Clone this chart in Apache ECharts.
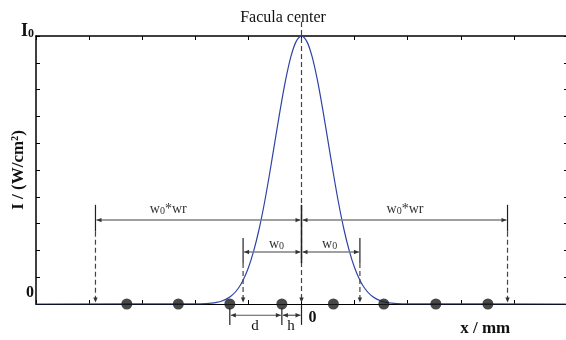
<!DOCTYPE html>
<html><head><meta charset="utf-8">
<script src="https://cdn.jsdelivr.net/npm/echarts@6/dist/echarts.min.js"></script>
<style>html,body{margin:0;padding:0;background:#fff}#c{width:566px;height:340px}</style>
</head><body><div id="c"></div>
<script>
// ---- axis settings ----
const xMin = -5, xMax = 5, xStep = 1;
const yMin = 0, yMax = 1, yStep = 0.1;
const yTopLabel = 'I', yTopLabelSub = '0', yBottomLabel = '0';
const xName = 'x / mm';
const yName = 'I / (W/cm\u00B2)';
const titleText = 'Facula center';
const originLabel = '0';

// ---- Gaussian intensity profile ----
const curveX = [-5, -2.0, -1.9, -1.8, -1.7, -1.6, -1.5, -1.4, -1.3, -1.2, -1.1, -1.0, -0.9, -0.8, -0.7, -0.6, -0.5, -0.4, -0.3, -0.2, -0.1, 0,
                0.1, 0.2, 0.3, 0.4, 0.5, 0.6, 0.7, 0.8, 0.9, 1.0, 1.1, 1.2, 1.3, 1.4, 1.5, 1.6, 1.7, 1.8, 1.9, 2.0, 5];
const curveY = [0, 0.0003, 0.0007, 0.0015, 0.003, 0.006, 0.011, 0.020, 0.034, 0.056, 0.089, 0.135, 0.198, 0.278, 0.375, 0.487, 0.607, 0.726, 0.835, 0.923, 0.980, 1.0,
                0.980, 0.923, 0.835, 0.726, 0.607, 0.487, 0.375, 0.278, 0.198, 0.135, 0.089, 0.056, 0.034, 0.020, 0.011, 0.006, 0.003, 0.0015, 0.0007, 0.0003, 0];

// ---- sampling points on the axis ----
const dotX = [-3.29, -2.32, -1.35, -0.37, 0.60, 1.55, 2.53, 3.51];

// ---- annotation geometry (data units) ----
const wrHalf = 3.88, wrLevel = 0.313, wrBar = [0.27, 0.37];
const w0Half = 1.10, w0Level = 0.194, w0Bar = [0.153, 0.246];
const centerBar = [0.153, 0.37];
const centerTop = 1.052;
const arrowTip = 0.006;
const dimLevel = -0.042, dimBar = [-0.015, -0.078];
const dLeft = dotX[2], dRight = dotX[3];
const wrLabelX = [-2.51, 1.95], wrLabelY = 0.354;
const w0LabelX = [-0.47, 0.53], w0LabelY = 0.224;
const dLabel = ['d', -0.876, -0.082], hLabel = ['h', -0.198, -0.082];
const originPos = [0.207, -0.052];
const xNamePos = [3.46, -0.092];

const serif = "'Liberation Serif','Times New Roman',serif";
const chart = echarts.init(document.getElementById('c'), null, {renderer: 'canvas'});

function renderAnno(params, api) {
  const P = (x, y) => api.coord([x, y]);
  const ch = [];
  const grey = '#808080', dark = '#222';
  const line = (a, b, style) => ch.push({type: 'line', shape: {x1: a[0], y1: a[1], x2: b[0], y2: b[1]}, style: style});
  const tri = (p, dir) => {
    const x = p[0], y = p[1], L = 5, W = 2.2;
    let pts;
    if (dir === 'l') pts = [[x, y], [x + L, y - W], [x + L, y + W]];
    else if (dir === 'r') pts = [[x, y], [x - L, y - W], [x - L, y + W]];
    else pts = [[x, y], [x - W, y - L], [x + W, y - L]];
    ch.push({type: 'polygon', shape: {points: pts}, style: {fill: '#333'}});
  };
  const dbl = (x1, x2, y, col, w) => {
    const a = P(x1, y), b = P(x2, y);
    line([a[0] + 1, a[1]], [b[0] - 1, b[1]], {stroke: col, lineWidth: w});
    tri([a[0] + 1, a[1]], 'l'); tri([b[0] - 1, b[1]], 'r');
  };
  const bar = (x, ylo, yhi, dashTo) => {
    line(P(x, ylo), P(x, yhi), {stroke: dark, lineWidth: 1.2});
    if (dashTo !== undefined) {
      const a = P(x, ylo), b = P(x, dashTo);
      line(a, [b[0], b[1] - 3], {stroke: '#444', lineWidth: 1.2, lineDash: [5, 3]});
      tri(b, 'd');
    }
  };
  const text = (str, x, y, style) => {
    const p = P(x, y);
    ch.push({type: 'text', x: p[0], y: p[1], style: Object.assign({text: str, align: 'center', verticalAlign: 'middle', fill: '#111', font: '14px ' + serif}, style)});
  };
  // centre dashed line
  {
    const a = P(0, centerTop), b = P(0, arrowTip);
    line(a, [b[0], b[1] - 3], {stroke: '#444', lineWidth: 1.2, lineDash: [5, 3]});
    tri(b, 'd');
    line(P(0, centerBar[0]), P(0, centerBar[1]), {stroke: dark, lineWidth: 1.5});
  }
  // w0*wr
  bar(-wrHalf, wrBar[0], wrBar[1], arrowTip);
  bar(wrHalf, wrBar[0], wrBar[1], arrowTip);
  dbl(-wrHalf, 0, wrLevel, grey, 1.5);
  dbl(0, wrHalf, wrLevel, grey, 1.5);
  // w0
  bar(-w0Half, w0Bar[0], w0Bar[1], arrowTip);
  bar(w0Half, w0Bar[0], w0Bar[1], arrowTip);
  dbl(-w0Half, 0, w0Level, grey, 1.5);
  dbl(0, w0Half, w0Level, grey, 1.5);
  // d and h
  bar(dLeft, dimBar[1], dimBar[0]);
  bar(dRight, dimBar[1], dimBar[0]);
  line(P(0, -0.004), P(0, dimBar[1]), {stroke: dark, lineWidth: 1.2});
  dbl(dLeft, dRight, dimLevel, '#555', 1.2);
  dbl(dRight, 0, dimLevel, '#555', 1.2);
  // labels
  const wrRich = {rich: {a: {font: '14px ' + serif, fill: '#333'}, s: {font: '10px ' + serif, fill: '#333', padding: [5, 0, 0, 0]}}};
  wrLabelX.forEach(x => text('{a|w}{s|0}{a|*wr}', x, wrLabelY, wrRich));
  w0LabelX.forEach(x => text('{a|w}{s|0}', x, w0LabelY, wrRich));
  text(dLabel[0], dLabel[1], dLabel[2], {font: '15px ' + serif});
  text(hLabel[0], hLabel[1], hLabel[2], {font: '15px ' + serif});
  text(originLabel, originPos[0], originPos[1], {font: 'bold 16px ' + serif});
  text(xName, xNamePos[0], xNamePos[1], {font: 'bold 17px ' + serif});
  return {type: 'group', children: ch};
}

const axisLine = {show: true, onZero: false, lineStyle: {color: '#000', width: 1.5}};
const option = {
  animation: false,
  grid: {left: 36, right: -1, top: 36, bottom: 36, containLabel: false, outerBoundsMode: 'none'},
  xAxis: [
    {type: 'value', min: xMin, max: xMax, interval: xStep, position: 'bottom',
     axisLine: {show: true, onZero: false, lineStyle: {color: '#000', width: 1.2}},
     axisTick: {show: true, inside: true, length: 4, lineStyle: {color: '#000'}},
     axisLabel: {show: false}, splitLine: {show: false}},
    {type: 'value', min: xMin, max: xMax, interval: xStep, position: 'top',
     axisLine: axisLine, axisTick: {show: true, inside: true, length: 4, lineStyle: {color: '#000'}},
     axisLabel: {show: false}, splitLine: {show: false}}
  ],
  yAxis: [
    {type: 'value', min: yMin, max: yMax, interval: yStep, position: 'left',
     axisLine: axisLine, axisTick: {show: true, inside: true, length: 4, lineStyle: {color: '#000'}},
     splitLine: {show: false},
     axisLabel: {show: true, margin: 2, showMinLabel: true, showMaxLabel: true,
       formatter: v => Math.abs(v - yMax) < 1e-6 ? '{i|' + yTopLabel + '}{s|' + yTopLabelSub + '}' : (Math.abs(v - yMin) < 1e-6 ? '{z|' + yBottomLabel + '}' : ''),
       rich: {
         i: {fontFamily: serif, fontWeight: 'bold', fontSize: 18, color: '#111', padding: [0, 0, 10, 0]},
         s: {fontFamily: serif, fontWeight: 'bold', fontSize: 12, color: '#111', padding: [0, 0, 4, 0]},
         z: {fontFamily: serif, fontWeight: 'bold', fontSize: 16, color: '#111', padding: [0, 0, 22, 0]}
       }}},
    {type: 'value', min: yMin, max: yMax, interval: yStep, position: 'right',
     axisLine: axisLine, axisTick: {show: true, inside: true, length: 3, lineStyle: {color: '#000'}},
     axisLabel: {show: false}, splitLine: {show: false}}
  ],
  title: {text: titleText, left: 'center', top: 5, textStyle: {fontFamily: serif, fontWeight: 'normal', fontSize: 16, color: '#111'}},
  graphic: [
    {type: 'text', x: 18.5, y: 170, rotation: Math.PI / 2, silent: true,
     style: {text: yName, align: 'center', verticalAlign: 'middle', font: 'bold 17px ' + serif, fill: '#111'}}
  ],
  series: [
    {type: 'line', xAxisIndex: 0, yAxisIndex: 0, data: curveX.map((x, i) => [x, curveY[i]]),
     smooth: 0.3, showSymbol: false, lineStyle: {color: '#2f43a6', width: 1.2}, z: 3},
    {type: 'custom', xAxisIndex: 0, yAxisIndex: 0, data: [[0, 0]], renderItem: renderAnno, clip: false, z: 4, silent: true},
    {type: 'scatter', xAxisIndex: 0, yAxisIndex: 0, data: dotX.map(x => [x, 0]), symbolSize: 11,
     itemStyle: {color: '#1a1a1a'}, z: 5}
  ]
};
chart.setOption(option);
</script>
</body></html>
